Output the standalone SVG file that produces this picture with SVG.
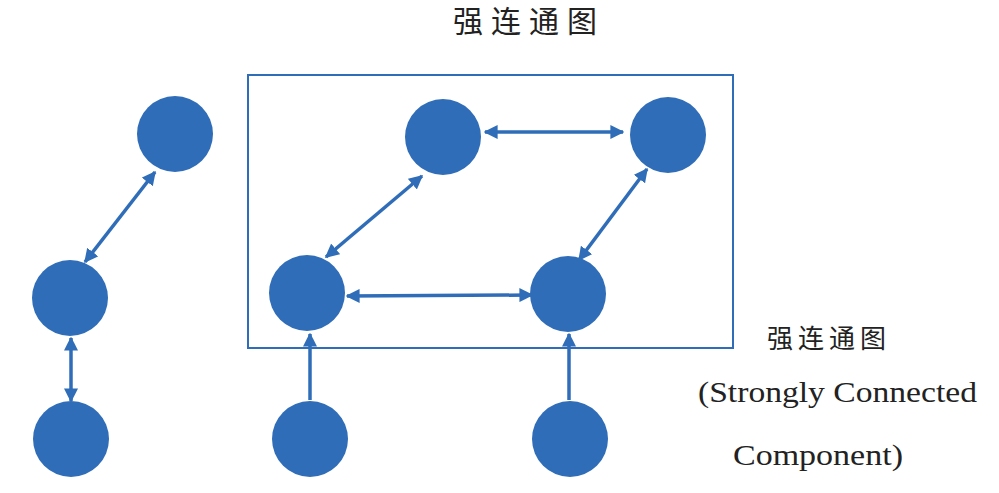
<svg xmlns="http://www.w3.org/2000/svg" width="999" height="493" viewBox="0 0 999 493">
<style>
.n{fill:#2F6DB8;}
.e{stroke:#2F6DB8;stroke-width:3.5;fill:none;}
.cjk{font-family:"Liberation Serif","Noto Sans CJK SC",serif;fill:#222;}
.lat{font-family:"Liberation Serif",serif;fill:#222;}
</style>
<defs>
<marker id="ah" viewBox="0 0 10 10" refX="9" refY="5" markerWidth="4" markerHeight="4" orient="auto-start-reverse" markerUnits="strokeWidth">
<path d="M0,0 L10,5 L0,10 z" fill="#2F6DB8"/>
</marker>
</defs>
<rect width="999" height="493" fill="#fff"/>
<text class="cjk" x="529" y="32" font-size="30" text-anchor="middle" letter-spacing="8">强连通图</text>
<rect id="scc-box" x="248" y="75" width="485" height="273" fill="none" stroke="#2F6DB8" stroke-width="2"/>
<g id="connectors">
<line class="e" x1="485" y1="132" x2="623" y2="132" marker-start="url(#ah)" marker-end="url(#ah)"/>
<line class="e" x1="347" y1="296" x2="532" y2="295" marker-start="url(#ah)" marker-end="url(#ah)"/>
<line class="e" x1="422" y1="176" x2="326" y2="257" marker-start="url(#ah)" marker-end="url(#ah)"/>
<line class="e" x1="647" y1="169" x2="579" y2="260" marker-start="url(#ah)" marker-end="url(#ah)"/>
<line class="e" x1="310" y1="400" x2="310" y2="334" marker-end="url(#ah)"/>
<line class="e" x1="569" y1="400" x2="569" y2="334" marker-end="url(#ah)"/>
<line class="e" x1="155" y1="172" x2="85" y2="262" marker-start="url(#ah)" marker-end="url(#ah)"/>
<line class="e" x1="71" y1="338" x2="71" y2="401" marker-start="url(#ah)" marker-end="url(#ah)"/>
</g>
<g id="n-left-top"><circle class="n" cx="175" cy="134" r="38"/></g>
<g id="n-left-mid"><circle class="n" cx="70" cy="298" r="38"/></g>
<g id="n-left-bot"><circle class="n" cx="71" cy="439" r="38"/></g>
<g id="n-scc-tl"><circle class="n" cx="443" cy="137" r="38"/></g>
<g id="n-scc-tr"><circle class="n" cx="668" cy="135" r="38"/></g>
<g id="n-scc-bl"><circle class="n" cx="307" cy="293" r="38"/></g>
<g id="n-scc-br"><circle class="n" cx="568" cy="294" r="38"/></g>
<g id="n-bot-1"><circle class="n" cx="310" cy="439" r="38"/></g>
<g id="n-bot-2"><circle class="n" cx="570" cy="439" r="38"/></g>
<text class="cjk" x="829" y="348" font-size="26" text-anchor="middle" letter-spacing="5">强连通图</text>
<text class="lat" x="698" y="402" font-size="29" textLength="279" lengthAdjust="spacingAndGlyphs">(Strongly Connected</text>
<text class="lat" x="733" y="465" font-size="29" textLength="170" lengthAdjust="spacingAndGlyphs">Component)</text>
</svg>
